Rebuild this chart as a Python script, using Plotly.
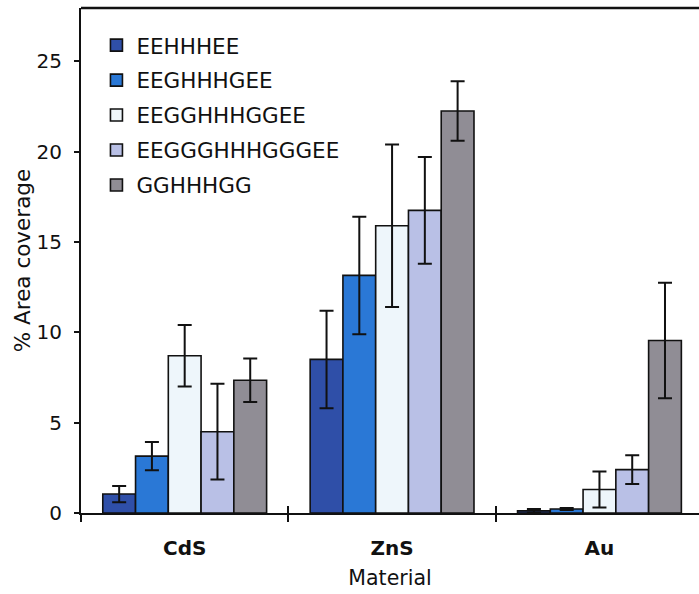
import plotly.graph_objects as go

materials = ["CdS", "ZnS", "Au"]
series_names = ["EEHHHEE", "EEGHHHGEE", "EEGGHHHGGEE", "EEGGGHHHGGGEE", "GGHHHGG"]
values = {
    "EEHHHEE":       [1.05, 8.5, 0.12],
    "EEGHHHGEE":     [3.15, 13.15, 0.22],
    "EEGGHHHGGEE":   [8.7, 15.9, 1.3],
    "EEGGGHHHGGGEE": [4.5, 16.75, 2.4],
    "GGHHHGG":       [7.35, 22.25, 9.55],
}
errors = {
    "EEHHHEE":       [0.45, 2.7, 0.1],
    "EEGHHHGEE":     [0.78, 3.25, 0.05],
    "EEGGHHHGGEE":   [1.7, 4.5, 1.0],
    "EEGGGHHHGGGEE": [2.65, 2.95, 0.8],
    "GGHHHGG":       [1.2, 1.65, 3.2],
}
colors = ["#2f4fa8", "#2a78d6", "#eef6fb", "#b9c0e6", "#908d95"]
y_ticks = [0, 5, 10, 15, 20, 25]

FONT = "DejaVu Sans"

fig = go.Figure()
for i, name in enumerate(series_names):
    fig.add_trace(go.Bar(
        x=materials, y=values[name], name=name,
        legendgroup=name,
        marker=dict(color=colors[i], line=dict(color="#111111", width=1.6)),
        error_y=dict(type="data", array=errors[name], color="#111111",
                     thickness=2, width=7),
    ))

# invisible helper trace to draw inside ticks at category boundaries
fig.add_trace(go.Scatter(x=materials, y=[None] * len(materials), xaxis="x2",
                         showlegend=False, hoverinfo="skip"))

fig.update_layout(
    width=699, height=594,
    margin=dict(l=81, r=0, t=8, b=81),
    paper_bgcolor="white", plot_bgcolor="white",
    barmode="group", bargap=0.21, bargroupgap=0,
    font=dict(family=FONT, size=19, color="#111111"),
    showlegend=True,
    legend=dict(x=0.025, y=0.967, xanchor="left", yanchor="top",
                font=dict(family=FONT, size=21.5, color="#111111"),
                bgcolor="rgba(0,0,0,0)", tracegroupgap=4,
                traceorder="grouped", itemwidth=30),
    xaxis=dict(
        type="category", range=[-0.5, 2.48],
        tickson="boundaries", ticks="outside", ticklen=7, tickwidth=1.5,
        tickcolor="#111111", ticklabelstandoff=16,
        showline=True, linecolor="#111111", linewidth=2, mirror=False,
        tickfont=dict(family=FONT, size=20, color="#111111", weight="bold"),
        title=dict(text="Material", font=dict(family=FONT, size=20.5), standoff=12),
        showgrid=False,
    ),
    xaxis2=dict(
        type="category", range=[-0.5, 2.48], overlaying="x",
        tickson="boundaries", ticks="inside", ticklen=7,
        tickwidth=1.5, tickcolor="#111111", showticklabels=False,
        showgrid=False, showline=False, anchor="y", side="bottom",
    ),
    yaxis=dict(
        range=[0, 27.95], tickvals=y_ticks, ticks="outside", ticklen=5,
        tickwidth=1.5, tickcolor="#111111", ticklabelstandoff=8,
        showline=True, linecolor="#111111", linewidth=2,
        showgrid=False, zeroline=False,
        tickfont=dict(family=FONT, size=20, color="#111111"),
        title=dict(text="% Area coverage", font=dict(family=FONT, size=21.5), standoff=0),
    ),
    shapes=[dict(type="line", xref="paper", yref="paper", x0=0, x1=1, y0=1, y1=1,
                 line=dict(color="#111111", width=2.5))],
)

fig.write_html("out.html")
